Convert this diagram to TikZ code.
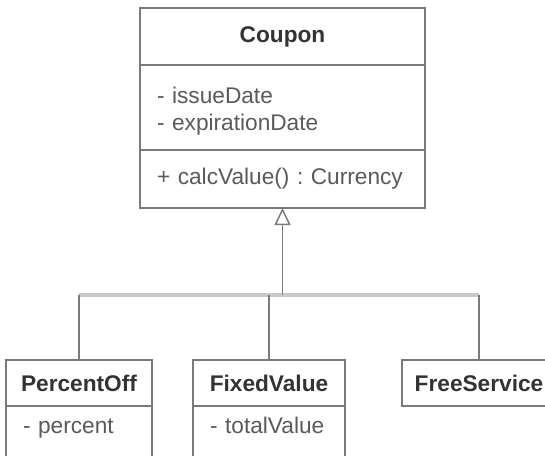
\documentclass[tikz,border=0pt]{standalone}
\usepackage{fontspec}
\setmainfont{Liberation Sans}
\usetikzlibrary{arrows.meta,positioning}
\definecolor{lineGray}  {HTML}{7A7A7A}
\definecolor{busGray}   {HTML}{C8C8C8}
\definecolor{nameGray}  {HTML}{333333}
\definecolor{attrGray}  {HTML}{5A5A5A}
\tikzset{
  font=\fontsize{17pt}{20.25pt}\selectfont,
  compart/.style={rectangle,draw=lineGray,line width=1.1pt,fill=white,outer sep=0pt},
  classname/.style={compart,font=\fontsize{17pt}{20.25pt}\selectfont\bfseries,text=nameGray,
    minimum height=34.5pt,align=center},
  attrbox/.style={compart,text=attrGray,align=left,inner xsep=12.75pt},
  subattr/.style={attrbox,text height=14pt,text depth=40pt,inner ysep=6.25pt,anchor=north},
  link/.style={draw=lineGray,line width=1.1pt},
  busline/.style={draw=busGray,line width=3pt},
  inherit/.style={link,-{Triangle[open,length=12.75pt,width=12pt,line width=1.1pt]}},
}
\frenchspacing

\begin{document}
\begin{tikzpicture}[x=0.75pt,y=-0.75pt]

\useasboundingbox (0,0) rectangle (545,455);
\fill[white] (0,0) rectangle (545,455);
\clip (0,0) rectangle (545,455);

% superclass
\node[classname,minimum width=213.75pt,minimum height=42.75pt] (couponName) at (282.5,36.5) {Coupon};
\node[attrbox,minimum width=213.75pt,minimum height=63.75pt,text width=188.25pt,below=0pt of couponName] (couponAttrs)
  {\rule{0pt}{18pt}- issueDate\\- expirationDate};
\node[attrbox,minimum width=213.75pt,minimum height=43.5pt,text width=188.25pt,below=0pt of couponAttrs] (couponOps)
  {+ calcValue() : Currency};

% subclasses
\node[classname,minimum width=109.5pt] (percentName) at (79,383) {PercentOff};
\node[subattr,minimum width=109.5pt,text width=84pt,below=0pt of percentName] (percentAttrs) {- percent};

\node[classname,minimum width=114pt] (fixedName) at (269,383) {FixedValue};
\node[subattr,minimum width=114pt,text width=88.5pt,below=0pt of fixedName] (fixedAttrs) {- totalValue};

\node[classname,minimum width=115.5pt] (freeName) at (479,383) {FreeService};

% generalization
\coordinate (bus) at (282.5,295);
\draw[busline] (percentName.north |- bus) -- (freeName.north |- bus);
\draw[link] (percentName.north) -- (percentName.north |- bus);
\draw[link] (fixedName.north) -- (fixedName.north |- bus);
\draw[link] (freeName.north) -- (freeName.north |- bus);
\draw[inherit] (bus) -- (couponOps.south);

\end{tikzpicture}
\end{document}
